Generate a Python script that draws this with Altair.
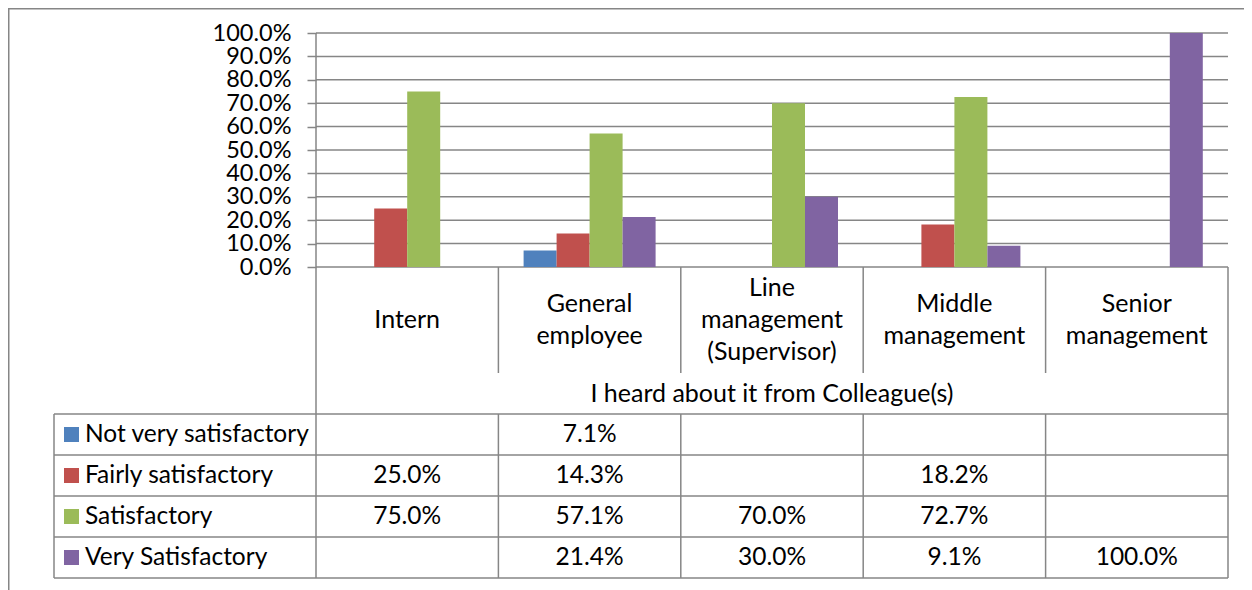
import altair as alt
import pandas as pd

# ---------------- data ----------------
categories = ["Intern", "General employee", "Line management (Supervisor)",
              "Middle management", "Senior management"]
series = ["Not very satisfactory", "Fairly satisfactory", "Satisfactory", "Very Satisfactory"]
not_very_satisfactory = [None, 0.071, None, None, None]
fairly_satisfactory = [0.25, 0.143, None, 0.182, None]
satisfactory = [0.75, 0.571, 0.70, 0.727, None]
very_satisfactory = [None, 0.214, 0.30, 0.091, 1.0]
y_ticks = [0.0, 0.1, 0.2, 0.3, 0.4, 0.5, 0.6, 0.7, 0.8, 0.9, 1.0]
group_label = "I heard about it from Colleague(s)"
colors = ["#4F81BD", "#C0504D", "#9BBB59", "#8064A2"]

# ---------------- layout constants (chart pixels) ----------------
FONT = "Lato"
FS_AX = 23.5
FS_TXT = 24.5
FS_CAT = 25
CAT_LH = 32
LINE = "#868686"
LW = 1.5
W, H = 1236, 582
PLOT_L = 308        # left edge of the plot columns
COL_W = 182.4       # width of one category column
BAR_PX = 33         # bar width
ZERO_PX = 259       # y of 0%
PCT_PX = 234        # pixels for 100%
TABLE_TOP = 406     # top of data table
ROW_PX = 41         # table row height
LABEL_COL_L = 46    # left edge of the table label column
SWATCH_C = 63.5     # centre of legend swatch
LABEL_TXT = 77      # start of row label text
BORDER = 0.75       # outer chart border position

n = len(categories)
m = len(series)


def u(px):
    return (px - PLOT_L) / COL_W


def t(px):
    return (px - TABLE_TOP) / ROW_PX


x_scale = alt.Scale(domain=[u(0), u(W)], nice=False, zero=False)
yb_scale = alt.Scale(domain=[(ZERO_PX - H) / PCT_PX, ZERO_PX / PCT_PX], nice=False, zero=False)
yt_scale = alt.Scale(domain=[t(0), t(H)], nice=False, zero=False, reverse=True)
AXIS_T = t(ZERO_PX)

# ---------------- tables built from the arrays ----------------
values = [not_very_satisfactory, fairly_satisfactory, satisfactory, very_satisfactory]
recs = []
for j, (s, vals) in enumerate(zip(series, values)):
    for i, (c, v) in enumerate(zip(categories, vals)):
        recs.append(dict(series=s, category=c, ci=i, sj=j, value=v))
df = pd.DataFrame(recs)
bw = BAR_PX / COL_W
df["xc"] = df["ci"] + 0.5
df["x0"] = df["xc"] + (df["sj"] - m / 2) * bw
df["x1"] = df["x0"] + bw
df["row"] = df["sj"] + 0.5
df["base"] = 0.0
vals_df = df.dropna(subset=["value"]).reset_index(drop=True)

y_axis = alt.Axis(values=y_ticks, format=".1%", offset=-PLOT_L, tickSize=9,
                  tickColor=LINE, tickWidth=LW, labelPadding=16, domain=False,
                  grid=False, title=None, labelFont=FONT, labelFontSize=FS_AX,
                  labelColor="black", labelFlush=False, labelOverlap=False)

color = alt.Color("series:N", scale=alt.Scale(domain=series, range=colors), legend=None)

# ---- bar-unit layers ----
grid_df = pd.DataFrame({"y": y_ticks, "x0": 0.0, "x1": float(n)})
grid = alt.Chart(grid_df).mark_rule(color=LINE, strokeWidth=LW).encode(
    x=alt.X("x0:Q", scale=x_scale, axis=None), x2="x1:Q",
    y=alt.Y("y:Q", scale=yb_scale, axis=y_axis))

vaxis_df = pd.DataFrame({"x": [0.0], "y0": [y_ticks[0]], "y1": [y_ticks[-1]]})
vaxis = alt.Chart(vaxis_df).mark_rule(color=LINE, strokeWidth=LW).encode(
    x=alt.X("x:Q", scale=x_scale, axis=None),
    y=alt.Y("y0:Q", scale=yb_scale, axis=y_axis), y2="y1:Q")

bars = alt.Chart(vals_df).mark_bar().encode(
    x=alt.X("x0:Q", scale=x_scale, axis=None), x2="x1:Q",
    y=alt.Y("value:Q", scale=yb_scale, axis=y_axis), y2="base:Q",
    color=color)

group_a = alt.layer(grid, vaxis, bars)

# ---- table-unit layers ----
L = u(LABEL_COL_L)
rule_recs = []
for k in range(m + 1):
    rule_recs.append((L, float(n), float(k), float(k)))
rule_recs.append((L, L, 0.0, float(m)))
rule_recs.append((0.0, 0.0, AXIS_T, float(m)))
rule_recs.append((float(n), float(n), AXIS_T, float(m)))
for i in range(1, n):
    rule_recs.append((float(i), float(i), AXIS_T, -1.0))
    rule_recs.append((float(i), float(i), 0.0, float(m)))
rules_df = pd.DataFrame(rule_recs, columns=["x0", "x1", "y0", "y1"])
trules = alt.Chart(rules_df).mark_rule(color=LINE, strokeWidth=LW).encode(
    x=alt.X("x0:Q", scale=x_scale, axis=None), x2="x1:Q",
    y=alt.Y("y0:Q", scale=yt_scale, axis=None), y2="y1:Q")

# outer chart border (left and top)
border_df = pd.DataFrame([(u(BORDER), u(BORDER), t(0), t(H)),
                          (u(0), u(W), t(BORDER), t(BORDER))],
                         columns=["x0", "x1", "y0", "y1"])
border = alt.Chart(border_df).mark_rule(color=LINE, strokeWidth=1.5).encode(
    x=alt.X("x0:Q", scale=x_scale, axis=None), x2="x1:Q",
    y=alt.Y("y0:Q", scale=yt_scale, axis=None), y2="y1:Q")

txt = dict(font=FONT, color="black", baseline="middle")

cat_mid = (AXIS_T - 1.0) / 2
cat_df = pd.DataFrame({"category": categories,
                       "x": [i + 0.5 for i in range(n)],
                       "y": [cat_mid - (len(c.split(" ")) - 1) * CAT_LH / 2 / ROW_PX
                             for c in categories]})
cat_text = alt.Chart(cat_df).mark_text(align="center", lineBreak=" ", lineHeight=CAT_LH,
                                       fontSize=FS_CAT, **txt).encode(
    x=alt.X("x:Q", scale=x_scale, axis=None),
    y=alt.Y("y:Q", scale=yt_scale, axis=None), text="category:N")

grp_df = pd.DataFrame({"label": [group_label], "x": [n / 2], "y": [-0.5]})
grp_text = alt.Chart(grp_df).mark_text(align="center", fontSize=FS_CAT, **txt).encode(
    x=alt.X("x:Q", scale=x_scale, axis=None),
    y=alt.Y("y:Q", scale=yt_scale, axis=None), text="label:N")

val_text = alt.Chart(vals_df).mark_text(align="center", fontSize=FS_TXT, **txt).encode(
    x=alt.X("xc:Q", scale=x_scale, axis=None),
    y=alt.Y("row:Q", scale=yt_scale, axis=None),
    text=alt.Text("value:Q", format=".1%"))

lab_df = pd.DataFrame({"series": series, "row": [j + 0.5 for j in range(m)],
                       "xs": u(SWATCH_C), "xt": u(LABEL_TXT)})
swatch = alt.Chart(lab_df).mark_square(size=225, opacity=1).encode(
    x=alt.X("xs:Q", scale=x_scale, axis=None),
    y=alt.Y("row:Q", scale=yt_scale, axis=None), color=color)
lab_text = alt.Chart(lab_df).mark_text(align="left", fontSize=FS_TXT, **txt).encode(
    x=alt.X("xt:Q", scale=x_scale, axis=None),
    y=alt.Y("row:Q", scale=yt_scale, axis=None), text="series:N")

group_b = alt.layer(border, trules, cat_text, grp_text, val_text, swatch, lab_text)

chart = alt.layer(group_a, group_b).resolve_scale(y="independent").properties(
    width=W, height=H, padding=0,
    autosize=alt.AutoSizeParams(type="none"),
).configure_view(stroke=None)

chart.save("out.html", embed_options={"renderer": "svg", "actions": False})
